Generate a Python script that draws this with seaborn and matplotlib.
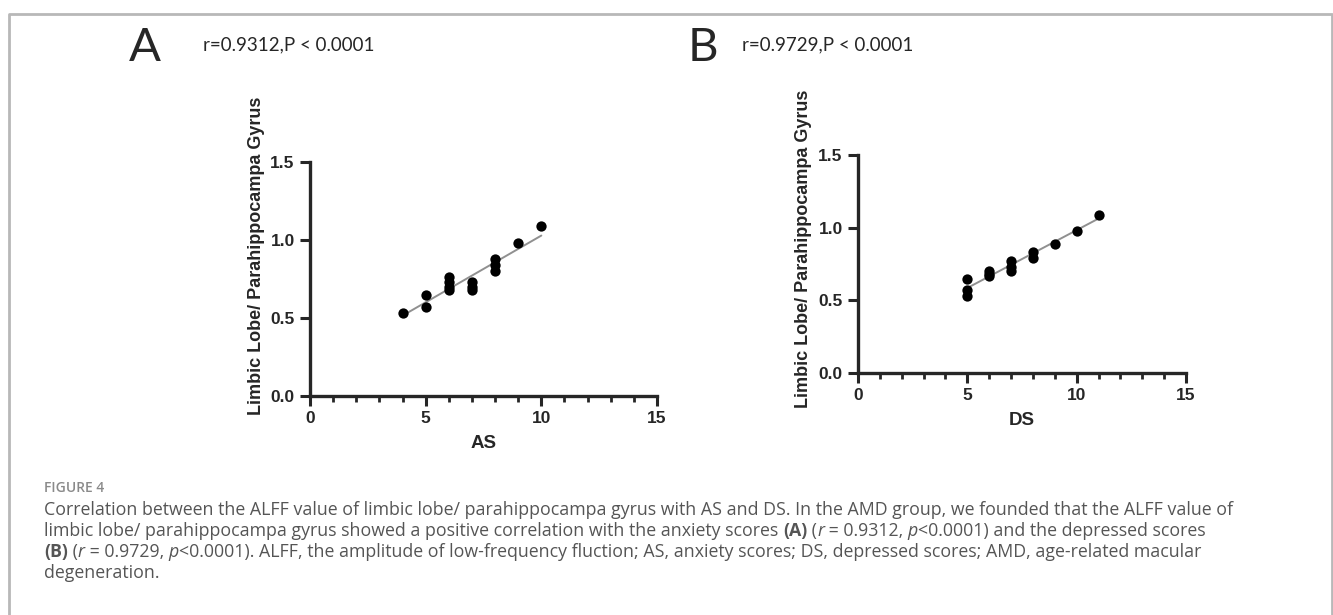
import matplotlib
matplotlib.use("Agg")
import matplotlib.pyplot as plt
from matplotlib.lines import Line2D
from matplotlib.ticker import MultipleLocator
import numpy as np
import pandas as pd
import seaborn as sns

# values
as_scores = [4, 5, 5, 6, 6, 6, 6, 7, 7, 7, 8, 8, 8, 9, 10]
as_alff = [0.53, 0.65, 0.57, 0.76, 0.73, 0.70, 0.68, 0.73, 0.70, 0.68, 0.88, 0.84, 0.80, 0.98, 1.09]
ds_scores = [5, 5, 5, 6, 6, 6, 7, 7, 7, 8, 8, 9, 10, 11]
ds_alff = [0.65, 0.57, 0.53, 0.70, 0.68, 0.67, 0.77, 0.73, 0.70, 0.83, 0.79, 0.89, 0.98, 1.09]

panel_letters = ["A", "B"]
stat_labels = ["r=0.9312,P < 0.0001", "r=0.9729,P < 0.0001"]
x_labels = ["AS", "DS"]
y_label = "Limbic Lobe/ Parahippocampa Gyrus"

caption_title = "FIGURE 4"
caption_lines = [
    [("Correlation between the ALFF value of limbic lobe/ parahippocampa gyrus with AS and DS. In the AMD group, we founded that the ALFF value of", "n")],
    [("limbic lobe/ parahippocampa gyrus showed a positive correlation with the anxiety scores ", "n"), ("(A)", "b"),
     (" (", "n"), ("r", "i"), (" = 0.9312, ", "n"), ("p", "i"), ("<0.0001) and the depressed scores", "n")],
    [("(B)", "b"), (" (", "n"), ("r", "i"), (" = 0.9729, ", "n"), ("p", "i"),
     ("<0.0001). ALFF, the amplitude of low-frequency fluction; AS, anxiety scores; DS, depressed scores; AMD, age-related macular", "n")],
    [("degeneration.", "n")],
]

sns.set_style("ticks")
plt.rcParams["font.family"] = ["Liberation Sans", "DejaVu Sans"]

W, H = 1333, 615
fig = plt.figure(figsize=(W / 100, H / 100), dpi=100)


def px_box(x0, x1, ytop, ybot):
    return [x0 / W, 1 - ybot / H, (x1 - x0) / W, (ybot - ytop) / H]


panels = [
    (pd.DataFrame({"score": as_scores, "alff": as_alff}), px_box(310, 657, 162, 396), (-0.130, 0.60)),
    (pd.DataFrame({"score": ds_scores, "alff": ds_alff}), px_box(858, 1186, 155, 373), (-0.140, 0.57)),
]

for i, (df, box, ylab_xy) in enumerate(panels):
    ax = fig.add_axes(box)
    sns.regplot(data=df, x="score", y="alff", ax=ax, scatter=False, ci=None, truncate=True,
                line_kws={"color": "#909090", "lw": 1.4})
    sns.scatterplot(data=df, x="score", y="alff", ax=ax, color="black", s=55,
                    edgecolor="black", linewidth=0, zorder=3, clip_on=False)
    ax.set_xlim(0, 15)
    ax.set_ylim(0, 1.5)
    ax.set_xticks([0, 5, 10, 15])
    ax.set_yticks([0, 0.5, 1.0, 1.5])
    ax.set_yticklabels(["0.0", "0.5", "1.0", "1.5"])
    ax.xaxis.set_minor_locator(MultipleLocator(1))
    sns.despine(ax=ax)
    for s in ["left", "bottom"]:
        ax.spines[s].set_linewidth(2.4)
    ax.tick_params(which="major", length=7, width=2.2, labelsize=12.5, pad=4)
    ax.tick_params(axis="x", which="minor", length=4.5, width=2.0)
    for lab in ax.get_xticklabels() + ax.get_yticklabels():
        lab.set_fontweight("bold")
    ax.set_xlabel(x_labels[i], fontsize=13.5, fontweight="bold", labelpad=6)
    ax.set_ylabel(y_label, fontsize=13, fontweight="bold")
    ax.yaxis.set_label_coords(*ylab_xy)
    ax.patch.set_alpha(0)

# panel letters and stats
letter_pos = [(129, 48), (688, 48)]
stat_pos = [(203, 45), (742, 45)]
for i in range(2):
    fig.text(letter_pos[i][0] / W, 1 - letter_pos[i][1] / H, panel_letters[i], fontsize=34,
             family=["Lato", "DejaVu Sans"], va="center", ha="left")
    fig.text(stat_pos[i][0] / W, 1 - stat_pos[i][1] / H, stat_labels[i], fontsize=13.5,
             family=["Lato", "DejaVu Sans"], va="center", ha="left")

# frame
fig.add_artist(Line2D([9 / W, 9 / W, 1332 / W, 1332 / W], [0, 1 - 14 / H, 1 - 14 / H, 0],
                      transform=fig.transFigure, color="#b8b8b8", lw=2))

# caption
cap_family = ["Open Sans", "DejaVu Sans"]
fig.text(44 / W, 1 - 488 / H, caption_title, fontsize=10, color="#8a8a8a", fontweight="semibold",
         family=cap_family, va="center")
renderer = fig.canvas.get_renderer()
line_y = [510, 531, 552, 573]
for ly, runs in zip(line_y, caption_lines):
    x = 44
    for txt, st in runs:
        t = fig.text(x / W, 1 - ly / H, txt, fontsize=12.8, color="#555555", family=cap_family,
                     fontweight="bold" if st == "b" else "normal",
                     fontstyle="italic" if st == "i" else "normal", va="center", ha="left")
        x += t.get_window_extent(renderer).width

fig.savefig("out.png", dpi=100)
